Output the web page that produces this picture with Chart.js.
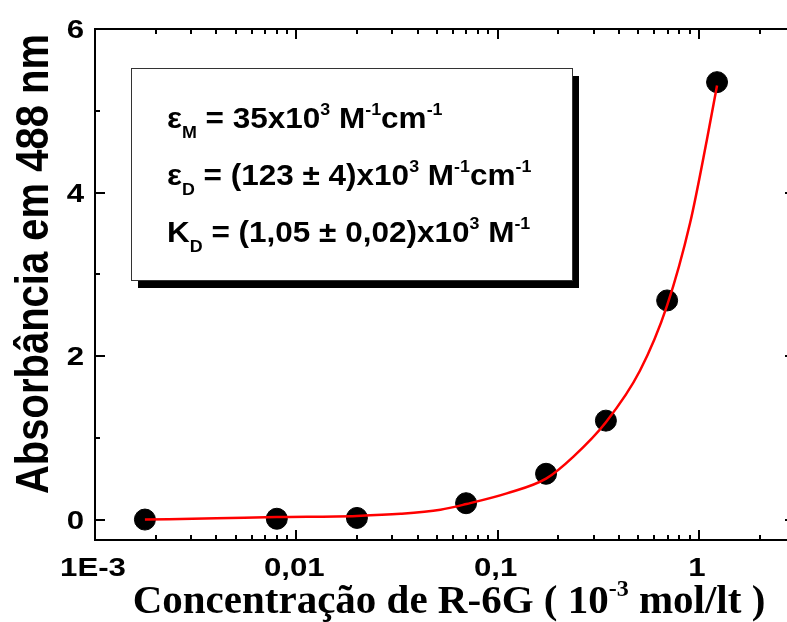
<!DOCTYPE html>
<html>
<head>
<meta charset="utf-8">
<script src="https://cdn.jsdelivr.net/npm/chart.js@4.4.1/dist/chart.umd.min.js"></script>
<style>
  html, body { margin: 0; padding: 0; background: #fff; overflow: hidden; }
  #wrap { width: 810px; height: 622px; }
</style>
</head>
<body>
<div id="wrap"><canvas id="absorbance_canvas" width="810" height="622"></canvas></div>
<script>
// Messpunkte (Konzentration in 10^-3 mol/lt, Absorbanz bei 488 nm)
const concentration = [0.00177, 0.0080, 0.0200, 0.0697, 0.174, 0.345, 0.695, 1.23];
const absorbance = [0.00, 0.01, 0.02, 0.20, 0.56, 1.21, 2.68, 5.35];

// Fit-Kurve
const fitConcentration = [0.00177, 0.004, 0.008, 0.02, 0.033, 0.052, 0.07, 0.111, 0.174, 0.238, 0.345, 0.509, 0.695, 0.904, 1.094, 1.23];
const fitAbsorbance = [0.00, 0.015, 0.03, 0.045, 0.07, 0.12, 0.19, 0.32, 0.50, 0.77, 1.19, 1.82, 2.62, 3.63, 4.64, 5.31];

// Achsen
const xMajor = [0.001, 0.01, 0.1, 1];
const xTickLabels = ['1E-3', '0,01', '0,1', '1'];
const xMinor = [0.002, 0.003, 0.004, 0.005, 0.006, 0.007, 0.008, 0.009,
                0.02, 0.03, 0.04, 0.05, 0.06, 0.07, 0.08, 0.09,
                0.2, 0.3, 0.4, 0.5, 0.6, 0.7, 0.8, 0.9, 2, 3];
const yMajor = [0, 2, 4, 6];
const yTickLabels = ['0', '2', '4', '6'];
const yMinor = [1, 3, 5];

const sans = '"Liberation Sans", Arial, sans-serif';
const serif = '"Liberation Serif", "Times New Roman", serif';

// Textzeilen mit Index / Exponent, sx = horizontale Streckung
function drawRuns(ctx, x, y, runs, base, small, subOff, supOff, family, sx) {
  ctx.save();
  ctx.translate(x, y);
  ctx.scale(sx, 1);
  let cx = 0;
  for (const [text, kind] of runs) {
    const size = kind === 'n' ? base : small;
    const dy = kind === 'sub' ? subOff : kind === 'sup' ? -supOff : 0;
    ctx.font = 'bold ' + size + 'px ' + family;
    ctx.fillText(text, cx, dy);
    cx += ctx.measureText(text).width;
  }
  ctx.restore();
}
function runsWidth(ctx, runs, base, small, family) {
  let w = 0;
  for (const [text, kind] of runs) {
    ctx.font = 'bold ' + (kind === 'n' ? base : small) + 'px ' + family;
    w += ctx.measureText(text).width;
  }
  return w;
}

const frameAndText = {
  id: 'frameAndText',
  afterDraw(chart) {
    const { ctx, chartArea: a, scales: { x, y } } = chart;
    ctx.save();
    ctx.strokeStyle = '#000';
    ctx.fillStyle = '#000';
    ctx.lineWidth = 2;
    ctx.strokeRect(a.left, a.top, a.right - a.left, a.bottom - a.top);

    // Ticks nach innen
    ctx.beginPath();
    const xt = (v, len) => {
      const px = Math.round(x.getPixelForValue(v));
      ctx.moveTo(px, a.bottom); ctx.lineTo(px, a.bottom - len);
      ctx.moveTo(px, a.top); ctx.lineTo(px, a.top + len);
    };
    const yt = (v, len) => {
      const py = Math.round(y.getPixelForValue(v));
      ctx.moveTo(a.left, py); ctx.lineTo(a.left + len, py);
      ctx.moveTo(a.right, py); ctx.lineTo(a.right - len, py);
    };
    xMajor.forEach(v => xt(v, 10));
    xMinor.forEach(v => xt(v, 5));
    yMajor.forEach(v => yt(v, 10));
    yMinor.forEach(v => yt(v, 5));
    ctx.stroke();

    // Tick-Beschriftung (leicht breit gezogen wie im Original)
    ctx.font = 'bold 26px ' + sans;
    ctx.textBaseline = 'alphabetic';
    xMajor.forEach((v, i) => {
      ctx.save();
      ctx.translate(x.getPixelForValue(v) - 2, 576);
      ctx.scale(1.2, 1);
      ctx.textAlign = 'center';
      ctx.fillText(xTickLabels[i], 0, 0);
      ctx.restore();
    });
    yMajor.forEach((v, i) => {
      ctx.save();
      ctx.translate(84, y.getPixelForValue(v) + 9);
      ctx.scale(1.2, 1);
      ctx.textAlign = 'right';
      ctx.fillText(yTickLabels[i], 0, 0);
      ctx.restore();
    });

    // Textbox mit Schatten
    const bx = 131, by = 68, bw = 441, bh = 212;
    ctx.fillStyle = '#000';
    ctx.fillRect(bx + 7, by + 8, bw, bh);
    ctx.fillStyle = '#fff';
    ctx.fillRect(bx, by, bw, bh);
    ctx.strokeStyle = '#333';
    ctx.lineWidth = 1;
    ctx.strokeRect(bx + 0.5, by + 0.5, bw, bh);

    ctx.fillStyle = '#000';
    ctx.textAlign = 'left';
    const lines = [
      [['ε', 'n'], ['M', 'sub'], [' = 35x10', 'n'], ['3', 'sup'], [' M', 'n'], ['-1', 'sup'], ['cm', 'n'], ['-1', 'sup']],
      [['ε', 'n'], ['D', 'sub'], [' = (123 ± 4)x10', 'n'], ['3', 'sup'], [' M', 'n'], ['-1', 'sup'], ['cm', 'n'], ['-1', 'sup']],
      [['K', 'n'], ['D', 'sub'], [' = (1,05 ± 0,02)x10', 'n'], ['3', 'sup'], [' M', 'n'], ['-1', 'sup']]
    ];
    lines.forEach((runs, i) => drawRuns(ctx, 167, 128 + i * 57, runs, 30, 17, 10, 13, sans, 1.05));

    // Achsentitel
    const xTitle = [['Concentração de R-6G ( 10', 'n'], ['-3', 'sup'], [' mol/lt )', 'n']];
    const w = runsWidth(ctx, xTitle, 41, 24, serif);
    drawRuns(ctx, 449 - w / 2, 613, xTitle, 41, 24, 0, 17, serif, 1);

    ctx.translate(48, 264);
    ctx.scale(1.17, 1);
    ctx.rotate(-Math.PI / 2);
    ctx.textAlign = 'center';
    ctx.font = 'bold 40px ' + sans;
    ctx.fillText('Absorbância em 488 nm', 0, 0);
    ctx.restore();
  }
};

const ctx = document.getElementById('absorbance_canvas');

new Chart(ctx, {
  type: 'scatter',
  data: {
    datasets: [{
      type: 'line',
      label: 'Fit',
      data: fitConcentration.map((c, i) => ({ x: c, y: fitAbsorbance[i] })),
      borderColor: '#ff0000',
      borderWidth: 2.5,
      pointRadius: 0,
      cubicInterpolationMode: 'monotone',
      fill: false,
      order: 0
    }, {
      label: 'R-6G',
      data: concentration.map((c, i) => ({ x: c, y: absorbance[i] })),
      backgroundColor: '#000',
      borderColor: '#000',
      pointRadius: 10.5,
      order: 1
    }]
  },
  options: {
    responsive: false,
    animation: false,
    layout: {
      padding: { left: 0, right: 15, top: 29, bottom: 0 }
    },
    scales: {
      x: {
        type: 'logarithmic',
        min: 0.001,
        max: 3,
        grid: { display: false, drawTicks: false },
        border: { display: false },
        afterBuildTicks: (scale) => { scale.ticks = xMajor.map(v => ({ value: v })); },
        afterFit: (scale) => { scale.height = 82; },
        ticks: { display: false }
      },
      y: {
        min: -0.25,
        max: 6,
        grid: { display: false, drawTicks: false },
        border: { display: false },
        afterBuildTicks: (scale) => { scale.ticks = yMajor.map(v => ({ value: v })); },
        afterFit: (scale) => { scale.width = 95; },
        ticks: { display: false }
      }
    },
    plugins: {
      legend: { display: false },
      tooltip: { enabled: false }
    }
  },
  plugins: [frameAndText]
});
</script>
</body>
</html>
